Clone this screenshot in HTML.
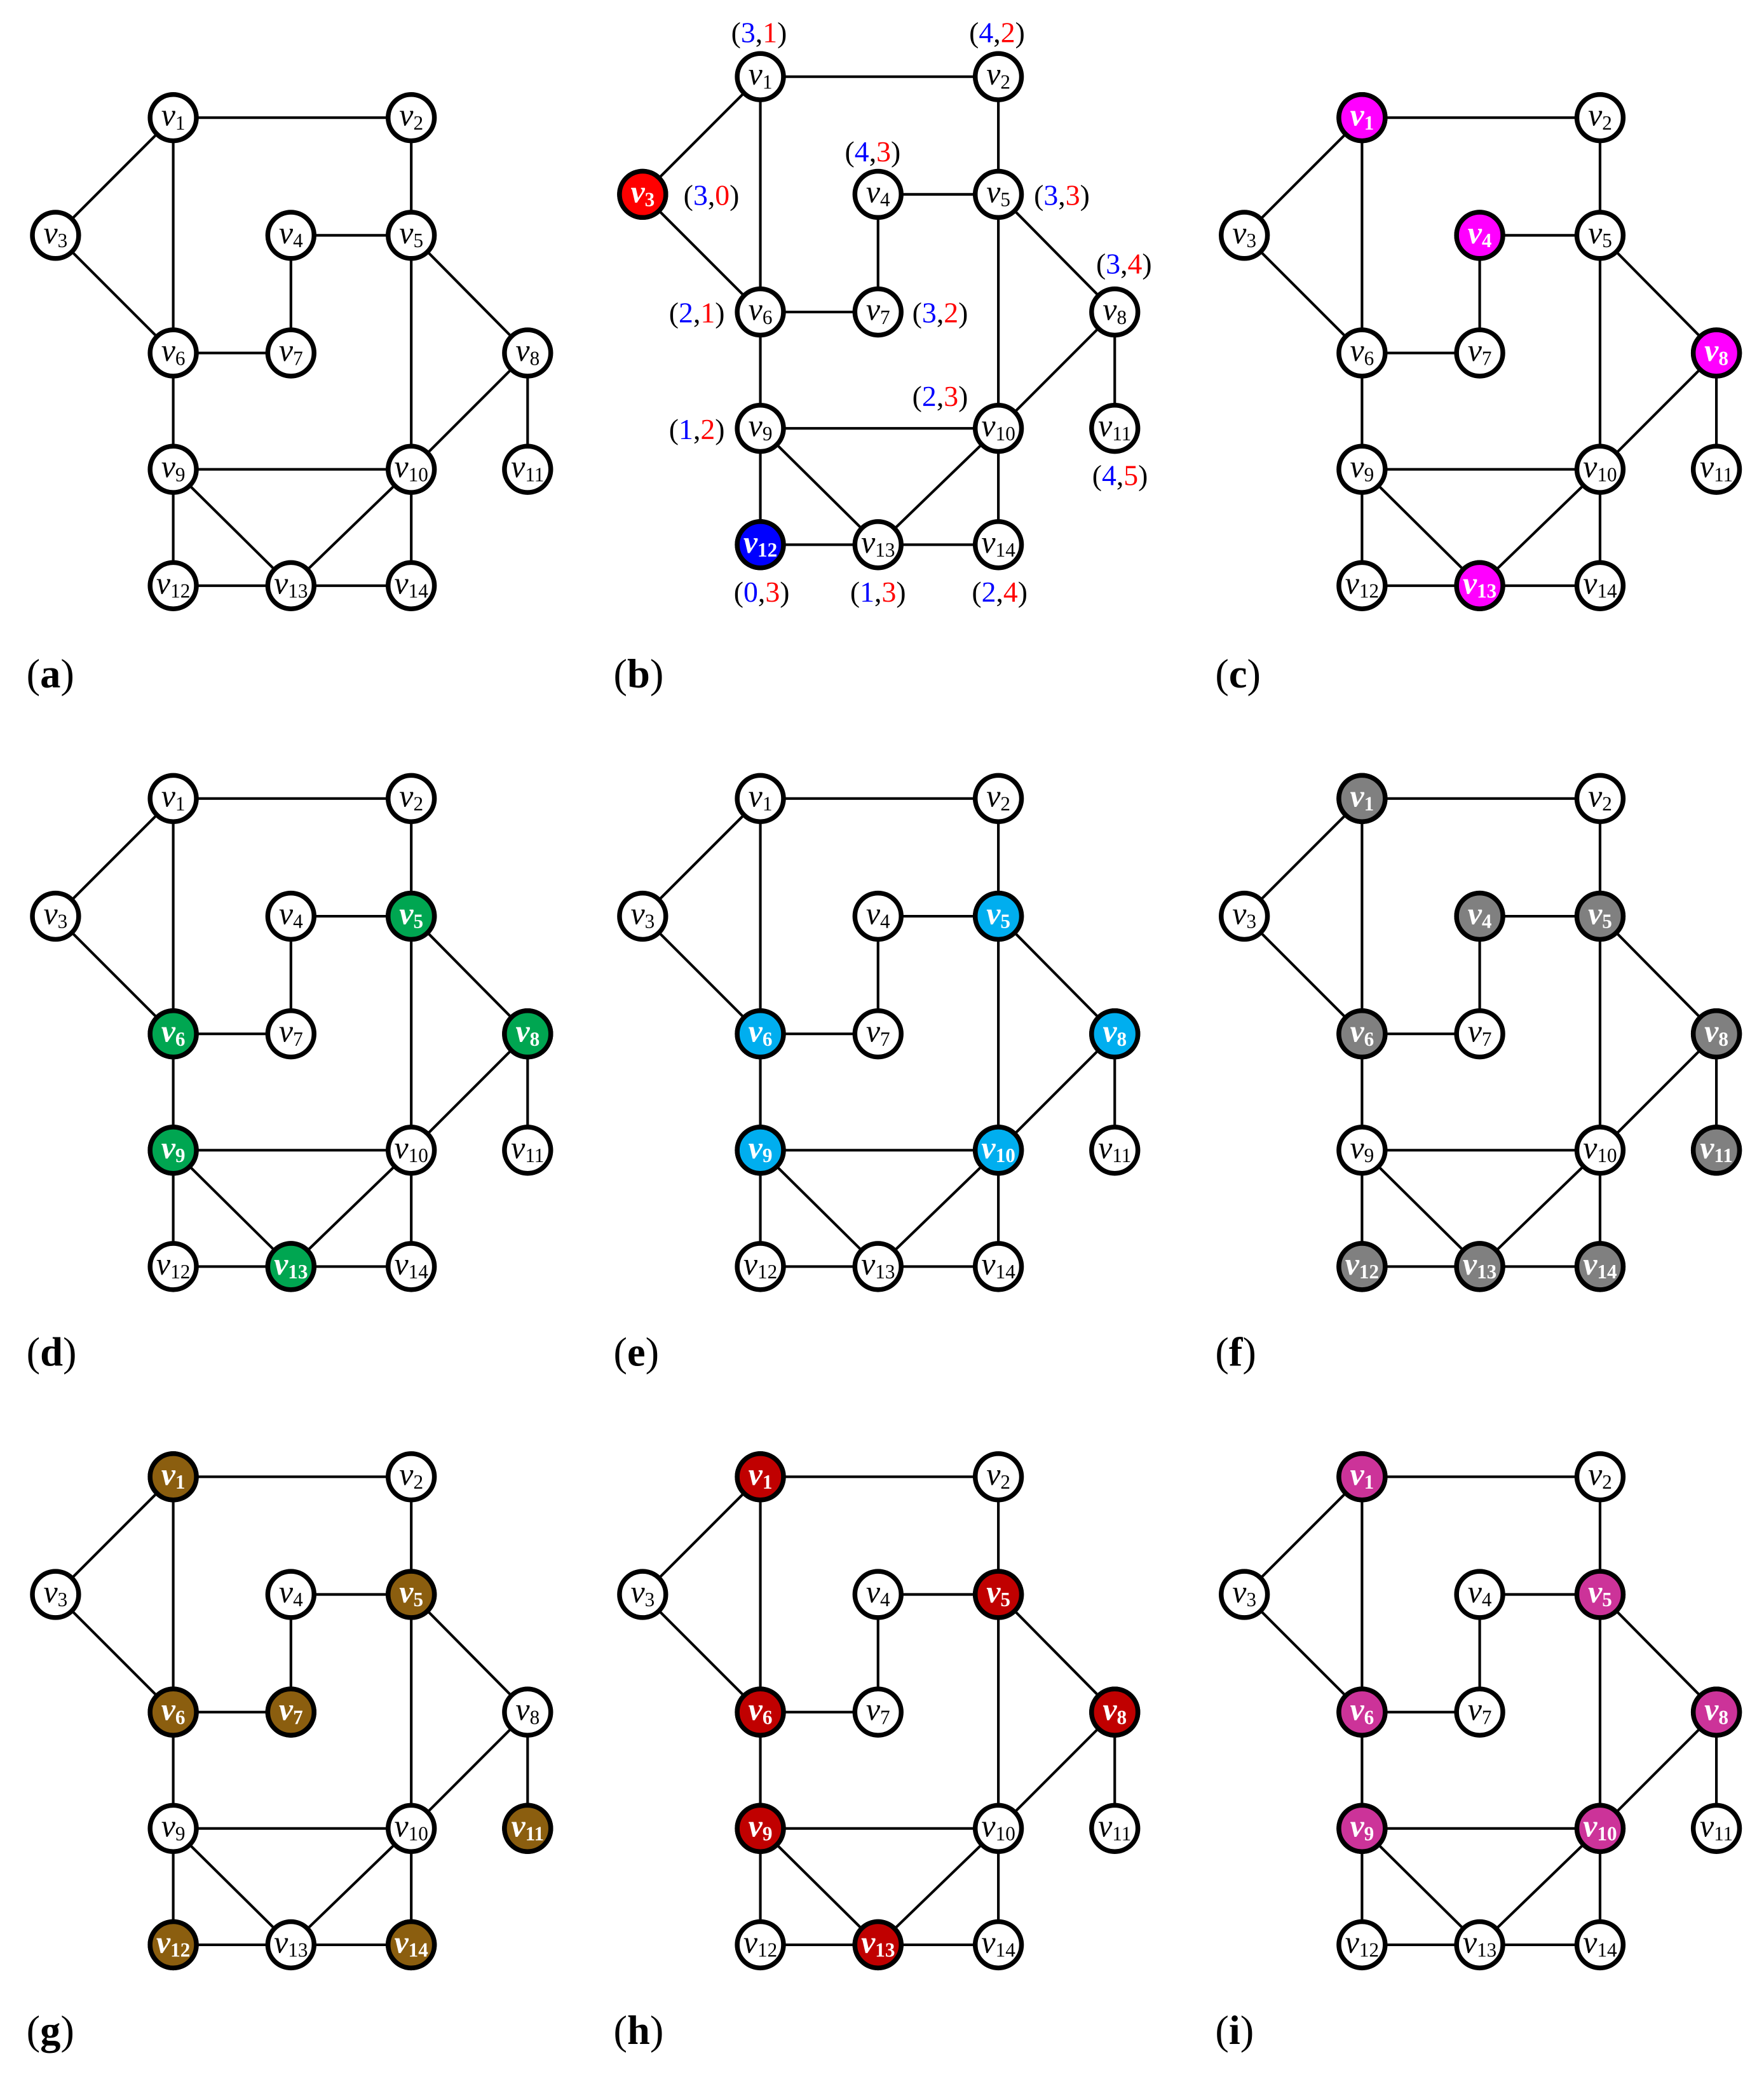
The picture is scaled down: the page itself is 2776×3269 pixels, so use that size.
<!DOCTYPE html>
<html><head><meta charset="utf-8">
<style>
html,body{margin:0;padding:0;background:#fff;}
svg{display:block;}
.t{font-family:"Liberation Serif",serif;font-size:24px;text-anchor:middle;fill:#000;}
.t .v{font-style:italic;}
.t .s{font-size:15px;}
.w{fill:#fff;font-weight:bold;}
.lb{font-family:"Liberation Serif",serif;font-size:31px;fill:#000;}
.p{font-family:"Liberation Serif",serif;font-size:22px;text-anchor:middle;fill:#000;}
.bl{fill:#0000ff}.rd{fill:#ff0000}
</style></head>
<body>
<svg width="2776" height="3269" viewBox="0 0 1334 1571" preserveAspectRatio="none" xmlns="http://www.w3.org/2000/svg">
<defs>
<g id="E" stroke="#000" stroke-width="2" fill="none">
<line x1="131" y1="89" x2="311" y2="89"/>
<line x1="131" y1="89" x2="42" y2="178"/>
<line x1="131" y1="89" x2="131" y2="267"/>
<line x1="311" y1="89" x2="311" y2="178"/>
<line x1="42" y1="178" x2="131" y2="267"/>
<line x1="220" y1="178" x2="311" y2="178"/>
<line x1="220" y1="178" x2="220" y2="267"/>
<line x1="131" y1="267" x2="220" y2="267"/>
<line x1="131" y1="267" x2="131" y2="355"/>
<line x1="311" y1="178" x2="399" y2="267"/>
<line x1="311" y1="178" x2="311" y2="355"/>
<line x1="399" y1="267" x2="311" y2="355"/>
<line x1="399" y1="267" x2="399" y2="355"/>
<line x1="131" y1="355" x2="311" y2="355"/>
<line x1="131" y1="355" x2="131" y2="443"/>
<line x1="131" y1="355" x2="220" y2="443"/>
<line x1="311" y1="355" x2="220" y2="443"/>
<line x1="311" y1="355" x2="311" y2="443"/>
<line x1="131" y1="443" x2="220" y2="443"/>
<line x1="220" y1="443" x2="311" y2="443"/>
</g>
<g id="N" stroke="#000" stroke-width="3.6" fill="#fff">
<circle cx="131" cy="89" r="17.5"/><circle cx="311" cy="89" r="17.5"/>
<circle cx="42" cy="178" r="17.5"/><circle cx="220" cy="178" r="17.5"/><circle cx="311" cy="178" r="17.5"/>
<circle cx="131" cy="267" r="17.5"/><circle cx="220" cy="267" r="17.5"/><circle cx="399" cy="267" r="17.5"/>
<circle cx="131" cy="355" r="17.5"/><circle cx="311" cy="355" r="17.5"/><circle cx="399" cy="355" r="17.5"/>
<circle cx="131" cy="443" r="17.5"/><circle cx="220" cy="443" r="17.5"/><circle cx="311" cy="443" r="17.5"/>
</g>
</defs>

<!-- (a) -->
<g transform="translate(0,0)">
<use href="#E"/><use href="#N"/>
<text class="t" x="131" y="95"><tspan class="v">v</tspan><tspan class="s" dy="3">1</tspan></text>
<text class="t" x="311" y="95"><tspan class="v">v</tspan><tspan class="s" dy="3">2</tspan></text>
<text class="t" x="42" y="184"><tspan class="v">v</tspan><tspan class="s" dy="3">3</tspan></text>
<text class="t" x="220" y="184"><tspan class="v">v</tspan><tspan class="s" dy="3">4</tspan></text>
<text class="t" x="311" y="184"><tspan class="v">v</tspan><tspan class="s" dy="3">5</tspan></text>
<text class="t" x="131" y="273"><tspan class="v">v</tspan><tspan class="s" dy="3">6</tspan></text>
<text class="t" x="220" y="273"><tspan class="v">v</tspan><tspan class="s" dy="3">7</tspan></text>
<text class="t" x="399" y="273"><tspan class="v">v</tspan><tspan class="s" dy="3">8</tspan></text>
<text class="t" x="131" y="361"><tspan class="v">v</tspan><tspan class="s" dy="3">9</tspan></text>
<text class="t" x="311" y="361"><tspan class="v">v</tspan><tspan class="s" dy="3">10</tspan></text>
<text class="t" x="399" y="361"><tspan class="v">v</tspan><tspan class="s" dy="3">11</tspan></text>
<text class="t" x="131" y="449"><tspan class="v">v</tspan><tspan class="s" dy="3">12</tspan></text>
<text class="t" x="220" y="449"><tspan class="v">v</tspan><tspan class="s" dy="3">13</tspan></text>
<text class="t" x="311" y="449"><tspan class="v">v</tspan><tspan class="s" dy="3">14</tspan></text>
</g>
<text class="lb" x="20" y="520">(<tspan font-weight="bold">a</tspan>)</text>

<!-- (b) -->
<g transform="translate(444,-31)">
<use href="#E"/><use href="#N"/>
<g stroke="#000" stroke-width="3.6"><circle cx="42" cy="178" r="17.5" fill="#ff0000"/><circle cx="131" cy="443" r="17.5" fill="#0000ff"/></g>
<text class="t" x="131" y="95"><tspan class="v">v</tspan><tspan class="s" dy="3">1</tspan></text>
<text class="t" x="311" y="95"><tspan class="v">v</tspan><tspan class="s" dy="3">2</tspan></text>
<text class="t w" x="42" y="184"><tspan class="v">v</tspan><tspan class="s" dy="3">3</tspan></text>
<text class="t" x="220" y="184"><tspan class="v">v</tspan><tspan class="s" dy="3">4</tspan></text>
<text class="t" x="311" y="184"><tspan class="v">v</tspan><tspan class="s" dy="3">5</tspan></text>
<text class="t" x="131" y="273"><tspan class="v">v</tspan><tspan class="s" dy="3">6</tspan></text>
<text class="t" x="220" y="273"><tspan class="v">v</tspan><tspan class="s" dy="3">7</tspan></text>
<text class="t" x="399" y="273"><tspan class="v">v</tspan><tspan class="s" dy="3">8</tspan></text>
<text class="t" x="131" y="361"><tspan class="v">v</tspan><tspan class="s" dy="3">9</tspan></text>
<text class="t" x="311" y="361"><tspan class="v">v</tspan><tspan class="s" dy="3">10</tspan></text>
<text class="t" x="399" y="361"><tspan class="v">v</tspan><tspan class="s" dy="3">11</tspan></text>
<text class="t w" x="131" y="449"><tspan class="v">v</tspan><tspan class="s" dy="3">12</tspan></text>
<text class="t" x="220" y="449"><tspan class="v">v</tspan><tspan class="s" dy="3">13</tspan></text>
<text class="t" x="311" y="449"><tspan class="v">v</tspan><tspan class="s" dy="3">14</tspan></text>
</g>
<text class="p" x="574" y="32">(<tspan class="bl">3</tspan>,<tspan class="rd">1</tspan>)</text>
<text class="p" x="754" y="32">(<tspan class="bl">4</tspan>,<tspan class="rd">2</tspan>)</text>
<text class="p" x="538" y="155">(<tspan class="bl">3</tspan>,<tspan class="rd">0</tspan>)</text>
<text class="p" x="660" y="122">(<tspan class="bl">4</tspan>,<tspan class="rd">3</tspan>)</text>
<text class="p" x="803" y="155">(<tspan class="bl">3</tspan>,<tspan class="rd">3</tspan>)</text>
<text class="p" x="850" y="207">(<tspan class="bl">3</tspan>,<tspan class="rd">4</tspan>)</text>
<text class="p" x="527" y="244">(<tspan class="bl">2</tspan>,<tspan class="rd">1</tspan>)</text>
<text class="p" x="711" y="244">(<tspan class="bl">3</tspan>,<tspan class="rd">2</tspan>)</text>
<text class="p" x="711" y="307">(<tspan class="bl">2</tspan>,<tspan class="rd">3</tspan>)</text>
<text class="p" x="527" y="332">(<tspan class="bl">1</tspan>,<tspan class="rd">2</tspan>)</text>
<text class="p" x="847" y="367">(<tspan class="bl">4</tspan>,<tspan class="rd">5</tspan>)</text>
<text class="p" x="576" y="455">(<tspan class="bl">0</tspan>,<tspan class="rd">3</tspan>)</text>
<text class="p" x="664" y="455">(<tspan class="bl">1</tspan>,<tspan class="rd">3</tspan>)</text>
<text class="p" x="756" y="455">(<tspan class="bl">2</tspan>,<tspan class="rd">4</tspan>)</text>
<text class="lb" x="464" y="520">(<tspan font-weight="bold">b</tspan>)</text>

<!-- (c) -->
<g transform="translate(899,0)">
<use href="#E"/><use href="#N"/>
<g stroke="#000" stroke-width="3.6" fill="#ff00ff"><circle cx="131" cy="89" r="17.5"/><circle cx="220" cy="178" r="17.5"/><circle cx="399" cy="267" r="17.5"/><circle cx="220" cy="443" r="17.5"/></g>
<text class="t w" x="131" y="95"><tspan class="v">v</tspan><tspan class="s" dy="3">1</tspan></text>
<text class="t" x="311" y="95"><tspan class="v">v</tspan><tspan class="s" dy="3">2</tspan></text>
<text class="t" x="42" y="184"><tspan class="v">v</tspan><tspan class="s" dy="3">3</tspan></text>
<text class="t w" x="220" y="184"><tspan class="v">v</tspan><tspan class="s" dy="3">4</tspan></text>
<text class="t" x="311" y="184"><tspan class="v">v</tspan><tspan class="s" dy="3">5</tspan></text>
<text class="t" x="131" y="273"><tspan class="v">v</tspan><tspan class="s" dy="3">6</tspan></text>
<text class="t" x="220" y="273"><tspan class="v">v</tspan><tspan class="s" dy="3">7</tspan></text>
<text class="t w" x="399" y="273"><tspan class="v">v</tspan><tspan class="s" dy="3">8</tspan></text>
<text class="t" x="131" y="361"><tspan class="v">v</tspan><tspan class="s" dy="3">9</tspan></text>
<text class="t" x="311" y="361"><tspan class="v">v</tspan><tspan class="s" dy="3">10</tspan></text>
<text class="t" x="399" y="361"><tspan class="v">v</tspan><tspan class="s" dy="3">11</tspan></text>
<text class="t" x="131" y="449"><tspan class="v">v</tspan><tspan class="s" dy="3">12</tspan></text>
<text class="t w" x="220" y="449"><tspan class="v">v</tspan><tspan class="s" dy="3">13</tspan></text>
<text class="t" x="311" y="449"><tspan class="v">v</tspan><tspan class="s" dy="3">14</tspan></text>
</g>
<text class="lb" x="919" y="520">(<tspan font-weight="bold">c</tspan>)</text>

<!-- (d) -->
<g transform="translate(0,515)">
<use href="#E"/><use href="#N"/>
<g stroke="#000" stroke-width="3.6" fill="#00a651"><circle cx="311" cy="178" r="17.5"/><circle cx="131" cy="267" r="17.5"/><circle cx="399" cy="267" r="17.5"/><circle cx="131" cy="355" r="17.5"/><circle cx="220" cy="443" r="17.5"/></g>
<text class="t" x="131" y="95"><tspan class="v">v</tspan><tspan class="s" dy="3">1</tspan></text>
<text class="t" x="311" y="95"><tspan class="v">v</tspan><tspan class="s" dy="3">2</tspan></text>
<text class="t" x="42" y="184"><tspan class="v">v</tspan><tspan class="s" dy="3">3</tspan></text>
<text class="t" x="220" y="184"><tspan class="v">v</tspan><tspan class="s" dy="3">4</tspan></text>
<text class="t w" x="311" y="184"><tspan class="v">v</tspan><tspan class="s" dy="3">5</tspan></text>
<text class="t w" x="131" y="273"><tspan class="v">v</tspan><tspan class="s" dy="3">6</tspan></text>
<text class="t" x="220" y="273"><tspan class="v">v</tspan><tspan class="s" dy="3">7</tspan></text>
<text class="t w" x="399" y="273"><tspan class="v">v</tspan><tspan class="s" dy="3">8</tspan></text>
<text class="t w" x="131" y="361"><tspan class="v">v</tspan><tspan class="s" dy="3">9</tspan></text>
<text class="t" x="311" y="361"><tspan class="v">v</tspan><tspan class="s" dy="3">10</tspan></text>
<text class="t" x="399" y="361"><tspan class="v">v</tspan><tspan class="s" dy="3">11</tspan></text>
<text class="t" x="131" y="449"><tspan class="v">v</tspan><tspan class="s" dy="3">12</tspan></text>
<text class="t w" x="220" y="449"><tspan class="v">v</tspan><tspan class="s" dy="3">13</tspan></text>
<text class="t" x="311" y="449"><tspan class="v">v</tspan><tspan class="s" dy="3">14</tspan></text>
</g>
<text class="lb" x="20" y="1033">(<tspan font-weight="bold">d</tspan>)</text>

<!-- (e) -->
<g transform="translate(444,515)">
<use href="#E"/><use href="#N"/>
<g stroke="#000" stroke-width="3.6" fill="#00aeef"><circle cx="311" cy="178" r="17.5"/><circle cx="131" cy="267" r="17.5"/><circle cx="399" cy="267" r="17.5"/><circle cx="131" cy="355" r="17.5"/><circle cx="311" cy="355" r="17.5"/></g>
<text class="t" x="131" y="95"><tspan class="v">v</tspan><tspan class="s" dy="3">1</tspan></text>
<text class="t" x="311" y="95"><tspan class="v">v</tspan><tspan class="s" dy="3">2</tspan></text>
<text class="t" x="42" y="184"><tspan class="v">v</tspan><tspan class="s" dy="3">3</tspan></text>
<text class="t" x="220" y="184"><tspan class="v">v</tspan><tspan class="s" dy="3">4</tspan></text>
<text class="t w" x="311" y="184"><tspan class="v">v</tspan><tspan class="s" dy="3">5</tspan></text>
<text class="t w" x="131" y="273"><tspan class="v">v</tspan><tspan class="s" dy="3">6</tspan></text>
<text class="t" x="220" y="273"><tspan class="v">v</tspan><tspan class="s" dy="3">7</tspan></text>
<text class="t w" x="399" y="273"><tspan class="v">v</tspan><tspan class="s" dy="3">8</tspan></text>
<text class="t w" x="131" y="361"><tspan class="v">v</tspan><tspan class="s" dy="3">9</tspan></text>
<text class="t w" x="311" y="361"><tspan class="v">v</tspan><tspan class="s" dy="3">10</tspan></text>
<text class="t" x="399" y="361"><tspan class="v">v</tspan><tspan class="s" dy="3">11</tspan></text>
<text class="t" x="131" y="449"><tspan class="v">v</tspan><tspan class="s" dy="3">12</tspan></text>
<text class="t" x="220" y="449"><tspan class="v">v</tspan><tspan class="s" dy="3">13</tspan></text>
<text class="t" x="311" y="449"><tspan class="v">v</tspan><tspan class="s" dy="3">14</tspan></text>
</g>
<text class="lb" x="464" y="1033">(<tspan font-weight="bold">e</tspan>)</text>

<!-- (f) -->
<g transform="translate(899,515)">
<use href="#E"/><use href="#N"/>
<g stroke="#000" stroke-width="3.6" fill="#808080"><circle cx="131" cy="89" r="17.5"/><circle cx="220" cy="178" r="17.5"/><circle cx="311" cy="178" r="17.5"/><circle cx="131" cy="267" r="17.5"/><circle cx="399" cy="267" r="17.5"/><circle cx="399" cy="355" r="17.5"/><circle cx="131" cy="443" r="17.5"/><circle cx="220" cy="443" r="17.5"/><circle cx="311" cy="443" r="17.5"/></g>
<text class="t w" x="131" y="95"><tspan class="v">v</tspan><tspan class="s" dy="3">1</tspan></text>
<text class="t" x="311" y="95"><tspan class="v">v</tspan><tspan class="s" dy="3">2</tspan></text>
<text class="t" x="42" y="184"><tspan class="v">v</tspan><tspan class="s" dy="3">3</tspan></text>
<text class="t w" x="220" y="184"><tspan class="v">v</tspan><tspan class="s" dy="3">4</tspan></text>
<text class="t w" x="311" y="184"><tspan class="v">v</tspan><tspan class="s" dy="3">5</tspan></text>
<text class="t w" x="131" y="273"><tspan class="v">v</tspan><tspan class="s" dy="3">6</tspan></text>
<text class="t" x="220" y="273"><tspan class="v">v</tspan><tspan class="s" dy="3">7</tspan></text>
<text class="t w" x="399" y="273"><tspan class="v">v</tspan><tspan class="s" dy="3">8</tspan></text>
<text class="t" x="131" y="361"><tspan class="v">v</tspan><tspan class="s" dy="3">9</tspan></text>
<text class="t" x="311" y="361"><tspan class="v">v</tspan><tspan class="s" dy="3">10</tspan></text>
<text class="t w" x="399" y="361"><tspan class="v">v</tspan><tspan class="s" dy="3">11</tspan></text>
<text class="t w" x="131" y="449"><tspan class="v">v</tspan><tspan class="s" dy="3">12</tspan></text>
<text class="t w" x="220" y="449"><tspan class="v">v</tspan><tspan class="s" dy="3">13</tspan></text>
<text class="t w" x="311" y="449"><tspan class="v">v</tspan><tspan class="s" dy="3">14</tspan></text>
</g>
<text class="lb" x="919" y="1033">(<tspan font-weight="bold">f</tspan>)</text>

<!-- (g) -->
<g transform="translate(0,1028)">
<use href="#E"/><use href="#N"/>
<g stroke="#000" stroke-width="3.6" fill="#8b5e0f"><circle cx="131" cy="89" r="17.5"/><circle cx="311" cy="178" r="17.5"/><circle cx="131" cy="267" r="17.5"/><circle cx="220" cy="267" r="17.5"/><circle cx="399" cy="355" r="17.5"/><circle cx="131" cy="443" r="17.5"/><circle cx="311" cy="443" r="17.5"/></g>
<text class="t w" x="131" y="95"><tspan class="v">v</tspan><tspan class="s" dy="3">1</tspan></text>
<text class="t" x="311" y="95"><tspan class="v">v</tspan><tspan class="s" dy="3">2</tspan></text>
<text class="t" x="42" y="184"><tspan class="v">v</tspan><tspan class="s" dy="3">3</tspan></text>
<text class="t" x="220" y="184"><tspan class="v">v</tspan><tspan class="s" dy="3">4</tspan></text>
<text class="t w" x="311" y="184"><tspan class="v">v</tspan><tspan class="s" dy="3">5</tspan></text>
<text class="t w" x="131" y="273"><tspan class="v">v</tspan><tspan class="s" dy="3">6</tspan></text>
<text class="t w" x="220" y="273"><tspan class="v">v</tspan><tspan class="s" dy="3">7</tspan></text>
<text class="t" x="399" y="273"><tspan class="v">v</tspan><tspan class="s" dy="3">8</tspan></text>
<text class="t" x="131" y="361"><tspan class="v">v</tspan><tspan class="s" dy="3">9</tspan></text>
<text class="t" x="311" y="361"><tspan class="v">v</tspan><tspan class="s" dy="3">10</tspan></text>
<text class="t w" x="399" y="361"><tspan class="v">v</tspan><tspan class="s" dy="3">11</tspan></text>
<text class="t w" x="131" y="449"><tspan class="v">v</tspan><tspan class="s" dy="3">12</tspan></text>
<text class="t" x="220" y="449"><tspan class="v">v</tspan><tspan class="s" dy="3">13</tspan></text>
<text class="t w" x="311" y="449"><tspan class="v">v</tspan><tspan class="s" dy="3">14</tspan></text>
</g>
<text class="lb" x="20" y="1546">(<tspan font-weight="bold">g</tspan>)</text>

<!-- (h) -->
<g transform="translate(444,1028)">
<use href="#E"/><use href="#N"/>
<g stroke="#000" stroke-width="3.6" fill="#c00000"><circle cx="131" cy="89" r="17.5"/><circle cx="311" cy="178" r="17.5"/><circle cx="131" cy="267" r="17.5"/><circle cx="399" cy="267" r="17.5"/><circle cx="131" cy="355" r="17.5"/><circle cx="220" cy="443" r="17.5"/></g>
<text class="t w" x="131" y="95"><tspan class="v">v</tspan><tspan class="s" dy="3">1</tspan></text>
<text class="t" x="311" y="95"><tspan class="v">v</tspan><tspan class="s" dy="3">2</tspan></text>
<text class="t" x="42" y="184"><tspan class="v">v</tspan><tspan class="s" dy="3">3</tspan></text>
<text class="t" x="220" y="184"><tspan class="v">v</tspan><tspan class="s" dy="3">4</tspan></text>
<text class="t w" x="311" y="184"><tspan class="v">v</tspan><tspan class="s" dy="3">5</tspan></text>
<text class="t w" x="131" y="273"><tspan class="v">v</tspan><tspan class="s" dy="3">6</tspan></text>
<text class="t" x="220" y="273"><tspan class="v">v</tspan><tspan class="s" dy="3">7</tspan></text>
<text class="t w" x="399" y="273"><tspan class="v">v</tspan><tspan class="s" dy="3">8</tspan></text>
<text class="t w" x="131" y="361"><tspan class="v">v</tspan><tspan class="s" dy="3">9</tspan></text>
<text class="t" x="311" y="361"><tspan class="v">v</tspan><tspan class="s" dy="3">10</tspan></text>
<text class="t" x="399" y="361"><tspan class="v">v</tspan><tspan class="s" dy="3">11</tspan></text>
<text class="t" x="131" y="449"><tspan class="v">v</tspan><tspan class="s" dy="3">12</tspan></text>
<text class="t w" x="220" y="449"><tspan class="v">v</tspan><tspan class="s" dy="3">13</tspan></text>
<text class="t" x="311" y="449"><tspan class="v">v</tspan><tspan class="s" dy="3">14</tspan></text>
</g>
<text class="lb" x="464" y="1546">(<tspan font-weight="bold">h</tspan>)</text>

<!-- (i) -->
<g transform="translate(899,1028)">
<use href="#E"/><use href="#N"/>
<g stroke="#000" stroke-width="3.6" fill="#cc3399"><circle cx="131" cy="89" r="17.5"/><circle cx="311" cy="178" r="17.5"/><circle cx="131" cy="267" r="17.5"/><circle cx="399" cy="267" r="17.5"/><circle cx="131" cy="355" r="17.5"/><circle cx="311" cy="355" r="17.5"/></g>
<text class="t w" x="131" y="95"><tspan class="v">v</tspan><tspan class="s" dy="3">1</tspan></text>
<text class="t" x="311" y="95"><tspan class="v">v</tspan><tspan class="s" dy="3">2</tspan></text>
<text class="t" x="42" y="184"><tspan class="v">v</tspan><tspan class="s" dy="3">3</tspan></text>
<text class="t" x="220" y="184"><tspan class="v">v</tspan><tspan class="s" dy="3">4</tspan></text>
<text class="t w" x="311" y="184"><tspan class="v">v</tspan><tspan class="s" dy="3">5</tspan></text>
<text class="t w" x="131" y="273"><tspan class="v">v</tspan><tspan class="s" dy="3">6</tspan></text>
<text class="t" x="220" y="273"><tspan class="v">v</tspan><tspan class="s" dy="3">7</tspan></text>
<text class="t w" x="399" y="273"><tspan class="v">v</tspan><tspan class="s" dy="3">8</tspan></text>
<text class="t w" x="131" y="361"><tspan class="v">v</tspan><tspan class="s" dy="3">9</tspan></text>
<text class="t w" x="311" y="361"><tspan class="v">v</tspan><tspan class="s" dy="3">10</tspan></text>
<text class="t" x="399" y="361"><tspan class="v">v</tspan><tspan class="s" dy="3">11</tspan></text>
<text class="t" x="131" y="449"><tspan class="v">v</tspan><tspan class="s" dy="3">12</tspan></text>
<text class="t" x="220" y="449"><tspan class="v">v</tspan><tspan class="s" dy="3">13</tspan></text>
<text class="t" x="311" y="449"><tspan class="v">v</tspan><tspan class="s" dy="3">14</tspan></text>
</g>
<text class="lb" x="919" y="1546">(<tspan font-weight="bold">i</tspan>)</text>
</svg>
</body></html>
